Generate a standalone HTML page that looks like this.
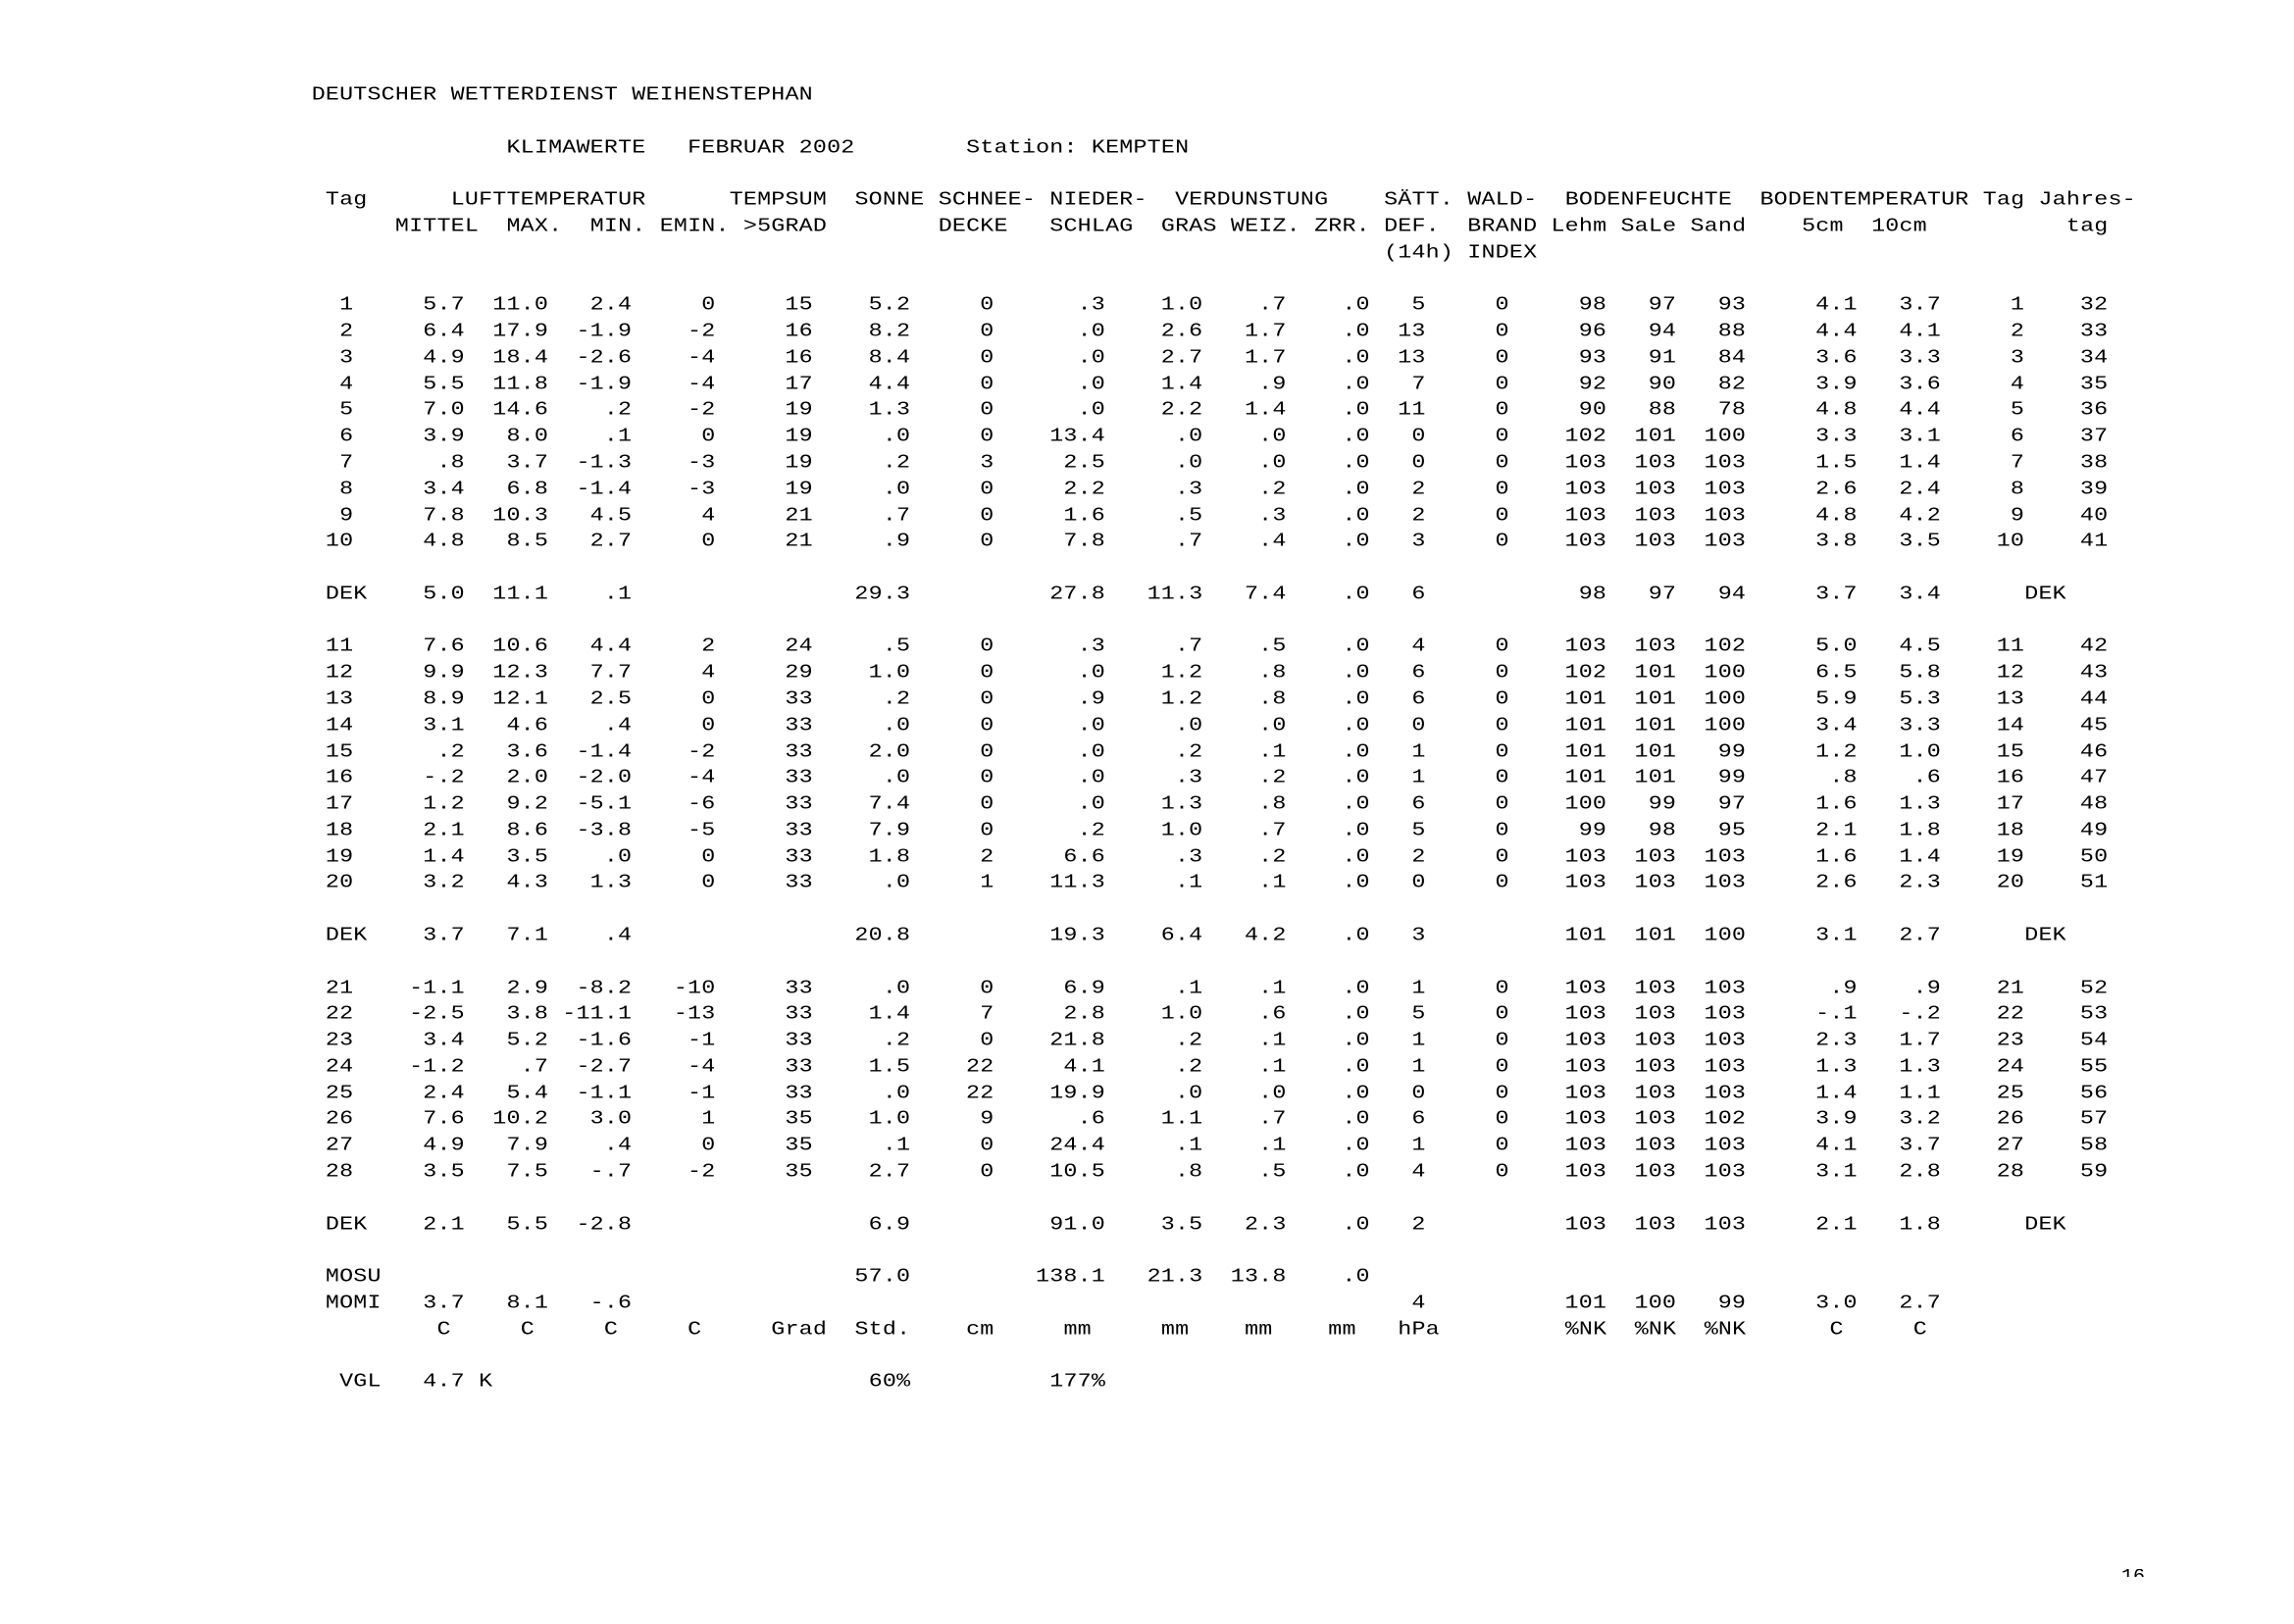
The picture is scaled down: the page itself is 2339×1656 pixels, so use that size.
<!DOCTYPE html>
<html><head><meta charset="utf-8">
<style>
html,body{margin:0;padding:0;background:#fff}
body{width:2339px;height:1656px;position:relative;overflow:hidden}
.r{position:absolute;left:317.7px;top:calc(83.05px + var(--n)*26.78px);height:27px;line-height:27px;
font-family:"Liberation Mono","DejaVu Sans Mono",monospace;font-size:23.33px;letter-spacing:0.2px;color:#000;
white-space:pre;transform:scaleY(0.82);transform-origin:0 19.71px;display:grid;
grid-template-columns:42.6px 113.6px 85.2px 85.2px 85.2px 99.4px 99.4px 85.2px 113.6px 99.4px 85.2px 85.2px 56.8px 85.2px 99.4px 71px 71px 113.6px 85.2px 85.2px 85.2px;width:1831.8px}
.r i{font-style:normal;text-align:right;display:block}
.r b{font-weight:normal;position:absolute;top:0;left:calc(var(--c)*14.2px)}
.pg{position:absolute;left:2163px;top:1600px;width:32px;height:8px;overflow:hidden}
.pg span{position:absolute;left:0;top:-1.1px;font-family:"Liberation Mono",monospace;font-size:20px;line-height:20px;color:#000;white-space:pre}
</style></head><body>

<div class="r" style="--n:0"><b style="--c:0">DEUTSCHER WETTERDIENST WEIHENSTEPHAN</b></div>
<div class="r" style="--n:2"><b style="--c:14">KLIMAWERTE</b><b style="--c:27">FEBRUAR 2002</b><b style="--c:47">Station: KEMPTEN</b></div>
<div class="r" style="--n:4"><b style="--c:1">Tag</b><b style="--c:10">LUFTTEMPERATUR</b><b style="--c:30">TEMPSUM</b><b style="--c:39">SONNE</b><b style="--c:45">SCHNEE-</b><b style="--c:53">NIEDER-</b><b style="--c:62">VERDUNSTUNG</b><b style="--c:77">SÄTT.</b><b style="--c:83">WALD-</b><b style="--c:90">BODENFEUCHTE</b><b style="--c:104">BODENTEMPERATUR</b><b style="--c:120">Tag</b><b style="--c:124">Jahres-</b></div>
<div class="r" style="--n:5"><b style="--c:6">MITTEL</b><b style="--c:14">MAX.</b><b style="--c:20">MIN.</b><b style="--c:25">EMIN.</b><b style="--c:31">&gt;5GRAD</b><b style="--c:45">DECKE</b><b style="--c:53">SCHLAG</b><b style="--c:61">GRAS</b><b style="--c:66">WEIZ.</b><b style="--c:72">ZRR.</b><b style="--c:77">DEF.</b><b style="--c:83">BRAND</b><b style="--c:89">Lehm</b><b style="--c:94">SaLe</b><b style="--c:99">Sand</b><b style="--c:107">5cm</b><b style="--c:112">10cm</b><b style="--c:126">tag</b></div>
<div class="r" style="--n:6"><b style="--c:77">(14h)</b><b style="--c:83">INDEX</b></div>

<div class="r" style="--n:8"><i>1</i><i>5.7</i><i>11.0</i><i>2.4</i><i>0</i><i>15</i><i>5.2</i><i>0</i><i>.3</i><i>1.0</i><i>.7</i><i>.0</i><i>5</i><i>0</i><i>98</i><i>97</i><i>93</i><i>4.1</i><i>3.7</i><i>1</i><i>32</i></div>
<div class="r" style="--n:9"><i>2</i><i>6.4</i><i>17.9</i><i>-1.9</i><i>-2</i><i>16</i><i>8.2</i><i>0</i><i>.0</i><i>2.6</i><i>1.7</i><i>.0</i><i>13</i><i>0</i><i>96</i><i>94</i><i>88</i><i>4.4</i><i>4.1</i><i>2</i><i>33</i></div>
<div class="r" style="--n:10"><i>3</i><i>4.9</i><i>18.4</i><i>-2.6</i><i>-4</i><i>16</i><i>8.4</i><i>0</i><i>.0</i><i>2.7</i><i>1.7</i><i>.0</i><i>13</i><i>0</i><i>93</i><i>91</i><i>84</i><i>3.6</i><i>3.3</i><i>3</i><i>34</i></div>
<div class="r" style="--n:11"><i>4</i><i>5.5</i><i>11.8</i><i>-1.9</i><i>-4</i><i>17</i><i>4.4</i><i>0</i><i>.0</i><i>1.4</i><i>.9</i><i>.0</i><i>7</i><i>0</i><i>92</i><i>90</i><i>82</i><i>3.9</i><i>3.6</i><i>4</i><i>35</i></div>
<div class="r" style="--n:12"><i>5</i><i>7.0</i><i>14.6</i><i>.2</i><i>-2</i><i>19</i><i>1.3</i><i>0</i><i>.0</i><i>2.2</i><i>1.4</i><i>.0</i><i>11</i><i>0</i><i>90</i><i>88</i><i>78</i><i>4.8</i><i>4.4</i><i>5</i><i>36</i></div>
<div class="r" style="--n:13"><i>6</i><i>3.9</i><i>8.0</i><i>.1</i><i>0</i><i>19</i><i>.0</i><i>0</i><i>13.4</i><i>.0</i><i>.0</i><i>.0</i><i>0</i><i>0</i><i>102</i><i>101</i><i>100</i><i>3.3</i><i>3.1</i><i>6</i><i>37</i></div>
<div class="r" style="--n:14"><i>7</i><i>.8</i><i>3.7</i><i>-1.3</i><i>-3</i><i>19</i><i>.2</i><i>3</i><i>2.5</i><i>.0</i><i>.0</i><i>.0</i><i>0</i><i>0</i><i>103</i><i>103</i><i>103</i><i>1.5</i><i>1.4</i><i>7</i><i>38</i></div>
<div class="r" style="--n:15"><i>8</i><i>3.4</i><i>6.8</i><i>-1.4</i><i>-3</i><i>19</i><i>.0</i><i>0</i><i>2.2</i><i>.3</i><i>.2</i><i>.0</i><i>2</i><i>0</i><i>103</i><i>103</i><i>103</i><i>2.6</i><i>2.4</i><i>8</i><i>39</i></div>
<div class="r" style="--n:16"><i>9</i><i>7.8</i><i>10.3</i><i>4.5</i><i>4</i><i>21</i><i>.7</i><i>0</i><i>1.6</i><i>.5</i><i>.3</i><i>.0</i><i>2</i><i>0</i><i>103</i><i>103</i><i>103</i><i>4.8</i><i>4.2</i><i>9</i><i>40</i></div>
<div class="r" style="--n:17"><i>10</i><i>4.8</i><i>8.5</i><i>2.7</i><i>0</i><i>21</i><i>.9</i><i>0</i><i>7.8</i><i>.7</i><i>.4</i><i>.0</i><i>3</i><i>0</i><i>103</i><i>103</i><i>103</i><i>3.8</i><i>3.5</i><i>10</i><i>41</i></div>

<div class="r" style="--n:19"><i></i><i>5.0</i><i>11.1</i><i>.1</i><i></i><i></i><i>29.3</i><i></i><i>27.8</i><i>11.3</i><i>7.4</i><i>.0</i><i>6</i><i></i><i>98</i><i>97</i><i>94</i><i>3.7</i><i>3.4</i><i></i><i></i><b style="--c:1">DEK</b><b style="--c:123">DEK</b></div>

<div class="r" style="--n:21"><i>11</i><i>7.6</i><i>10.6</i><i>4.4</i><i>2</i><i>24</i><i>.5</i><i>0</i><i>.3</i><i>.7</i><i>.5</i><i>.0</i><i>4</i><i>0</i><i>103</i><i>103</i><i>102</i><i>5.0</i><i>4.5</i><i>11</i><i>42</i></div>
<div class="r" style="--n:22"><i>12</i><i>9.9</i><i>12.3</i><i>7.7</i><i>4</i><i>29</i><i>1.0</i><i>0</i><i>.0</i><i>1.2</i><i>.8</i><i>.0</i><i>6</i><i>0</i><i>102</i><i>101</i><i>100</i><i>6.5</i><i>5.8</i><i>12</i><i>43</i></div>
<div class="r" style="--n:23"><i>13</i><i>8.9</i><i>12.1</i><i>2.5</i><i>0</i><i>33</i><i>.2</i><i>0</i><i>.9</i><i>1.2</i><i>.8</i><i>.0</i><i>6</i><i>0</i><i>101</i><i>101</i><i>100</i><i>5.9</i><i>5.3</i><i>13</i><i>44</i></div>
<div class="r" style="--n:24"><i>14</i><i>3.1</i><i>4.6</i><i>.4</i><i>0</i><i>33</i><i>.0</i><i>0</i><i>.0</i><i>.0</i><i>.0</i><i>.0</i><i>0</i><i>0</i><i>101</i><i>101</i><i>100</i><i>3.4</i><i>3.3</i><i>14</i><i>45</i></div>
<div class="r" style="--n:25"><i>15</i><i>.2</i><i>3.6</i><i>-1.4</i><i>-2</i><i>33</i><i>2.0</i><i>0</i><i>.0</i><i>.2</i><i>.1</i><i>.0</i><i>1</i><i>0</i><i>101</i><i>101</i><i>99</i><i>1.2</i><i>1.0</i><i>15</i><i>46</i></div>
<div class="r" style="--n:26"><i>16</i><i>-.2</i><i>2.0</i><i>-2.0</i><i>-4</i><i>33</i><i>.0</i><i>0</i><i>.0</i><i>.3</i><i>.2</i><i>.0</i><i>1</i><i>0</i><i>101</i><i>101</i><i>99</i><i>.8</i><i>.6</i><i>16</i><i>47</i></div>
<div class="r" style="--n:27"><i>17</i><i>1.2</i><i>9.2</i><i>-5.1</i><i>-6</i><i>33</i><i>7.4</i><i>0</i><i>.0</i><i>1.3</i><i>.8</i><i>.0</i><i>6</i><i>0</i><i>100</i><i>99</i><i>97</i><i>1.6</i><i>1.3</i><i>17</i><i>48</i></div>
<div class="r" style="--n:28"><i>18</i><i>2.1</i><i>8.6</i><i>-3.8</i><i>-5</i><i>33</i><i>7.9</i><i>0</i><i>.2</i><i>1.0</i><i>.7</i><i>.0</i><i>5</i><i>0</i><i>99</i><i>98</i><i>95</i><i>2.1</i><i>1.8</i><i>18</i><i>49</i></div>
<div class="r" style="--n:29"><i>19</i><i>1.4</i><i>3.5</i><i>.0</i><i>0</i><i>33</i><i>1.8</i><i>2</i><i>6.6</i><i>.3</i><i>.2</i><i>.0</i><i>2</i><i>0</i><i>103</i><i>103</i><i>103</i><i>1.6</i><i>1.4</i><i>19</i><i>50</i></div>
<div class="r" style="--n:30"><i>20</i><i>3.2</i><i>4.3</i><i>1.3</i><i>0</i><i>33</i><i>.0</i><i>1</i><i>11.3</i><i>.1</i><i>.1</i><i>.0</i><i>0</i><i>0</i><i>103</i><i>103</i><i>103</i><i>2.6</i><i>2.3</i><i>20</i><i>51</i></div>

<div class="r" style="--n:32"><i></i><i>3.7</i><i>7.1</i><i>.4</i><i></i><i></i><i>20.8</i><i></i><i>19.3</i><i>6.4</i><i>4.2</i><i>.0</i><i>3</i><i></i><i>101</i><i>101</i><i>100</i><i>3.1</i><i>2.7</i><i></i><i></i><b style="--c:1">DEK</b><b style="--c:123">DEK</b></div>

<div class="r" style="--n:34"><i>21</i><i>-1.1</i><i>2.9</i><i>-8.2</i><i>-10</i><i>33</i><i>.0</i><i>0</i><i>6.9</i><i>.1</i><i>.1</i><i>.0</i><i>1</i><i>0</i><i>103</i><i>103</i><i>103</i><i>.9</i><i>.9</i><i>21</i><i>52</i></div>
<div class="r" style="--n:35"><i>22</i><i>-2.5</i><i>3.8</i><i>-11.1</i><i>-13</i><i>33</i><i>1.4</i><i>7</i><i>2.8</i><i>1.0</i><i>.6</i><i>.0</i><i>5</i><i>0</i><i>103</i><i>103</i><i>103</i><i>-.1</i><i>-.2</i><i>22</i><i>53</i></div>
<div class="r" style="--n:36"><i>23</i><i>3.4</i><i>5.2</i><i>-1.6</i><i>-1</i><i>33</i><i>.2</i><i>0</i><i>21.8</i><i>.2</i><i>.1</i><i>.0</i><i>1</i><i>0</i><i>103</i><i>103</i><i>103</i><i>2.3</i><i>1.7</i><i>23</i><i>54</i></div>
<div class="r" style="--n:37"><i>24</i><i>-1.2</i><i>.7</i><i>-2.7</i><i>-4</i><i>33</i><i>1.5</i><i>22</i><i>4.1</i><i>.2</i><i>.1</i><i>.0</i><i>1</i><i>0</i><i>103</i><i>103</i><i>103</i><i>1.3</i><i>1.3</i><i>24</i><i>55</i></div>
<div class="r" style="--n:38"><i>25</i><i>2.4</i><i>5.4</i><i>-1.1</i><i>-1</i><i>33</i><i>.0</i><i>22</i><i>19.9</i><i>.0</i><i>.0</i><i>.0</i><i>0</i><i>0</i><i>103</i><i>103</i><i>103</i><i>1.4</i><i>1.1</i><i>25</i><i>56</i></div>
<div class="r" style="--n:39"><i>26</i><i>7.6</i><i>10.2</i><i>3.0</i><i>1</i><i>35</i><i>1.0</i><i>9</i><i>.6</i><i>1.1</i><i>.7</i><i>.0</i><i>6</i><i>0</i><i>103</i><i>103</i><i>102</i><i>3.9</i><i>3.2</i><i>26</i><i>57</i></div>
<div class="r" style="--n:40"><i>27</i><i>4.9</i><i>7.9</i><i>.4</i><i>0</i><i>35</i><i>.1</i><i>0</i><i>24.4</i><i>.1</i><i>.1</i><i>.0</i><i>1</i><i>0</i><i>103</i><i>103</i><i>103</i><i>4.1</i><i>3.7</i><i>27</i><i>58</i></div>
<div class="r" style="--n:41"><i>28</i><i>3.5</i><i>7.5</i><i>-.7</i><i>-2</i><i>35</i><i>2.7</i><i>0</i><i>10.5</i><i>.8</i><i>.5</i><i>.0</i><i>4</i><i>0</i><i>103</i><i>103</i><i>103</i><i>3.1</i><i>2.8</i><i>28</i><i>59</i></div>

<div class="r" style="--n:43"><i></i><i>2.1</i><i>5.5</i><i>-2.8</i><i></i><i></i><i>6.9</i><i></i><i>91.0</i><i>3.5</i><i>2.3</i><i>.0</i><i>2</i><i></i><i>103</i><i>103</i><i>103</i><i>2.1</i><i>1.8</i><i></i><i></i><b style="--c:1">DEK</b><b style="--c:123">DEK</b></div>

<div class="r" style="--n:45"><i></i><i></i><i></i><i></i><i></i><i></i><i>57.0</i><i></i><i>138.1</i><i>21.3</i><i>13.8</i><i>.0</i><i></i><i></i><i></i><i></i><i></i><i></i><i></i><i></i><i></i><b style="--c:1">MOSU</b></div>
<div class="r" style="--n:46"><i></i><i>3.7</i><i>8.1</i><i>-.6</i><i></i><i></i><i></i><i></i><i></i><i></i><i></i><i></i><i>4</i><i></i><i>101</i><i>100</i><i>99</i><i>3.0</i><i>2.7</i><i></i><i></i><b style="--c:1">MOMI</b></div>
<div class="r" style="--n:47"><b style="--c:9">C</b><b style="--c:15">C</b><b style="--c:21">C</b><b style="--c:27">C</b><b style="--c:33">Grad</b><b style="--c:39">Std.</b><b style="--c:47">cm</b><b style="--c:54">mm</b><b style="--c:61">mm</b><b style="--c:67">mm</b><b style="--c:73">mm</b><b style="--c:78">hPa</b><b style="--c:90">%NK</b><b style="--c:95">%NK</b><b style="--c:100">%NK</b><b style="--c:109">C</b><b style="--c:115">C</b></div>

<div class="r" style="--n:49"><b style="--c:2">VGL</b><b style="--c:8">4.7 K</b><b style="--c:40">60%</b><b style="--c:53">177%</b></div>

<div class="pg"><span>16</span></div>

</body></html>
